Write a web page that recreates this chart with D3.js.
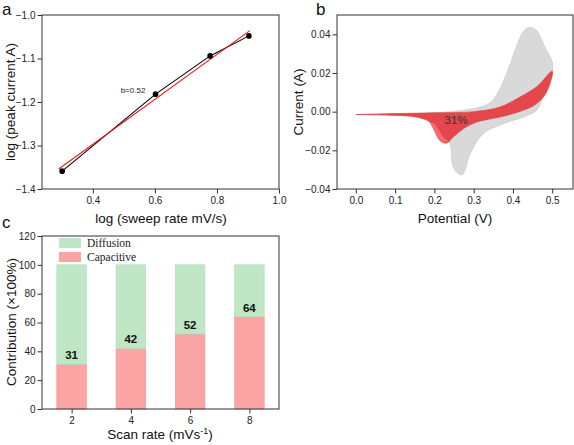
<!DOCTYPE html>
<html><head><meta charset="utf-8">
<script src="https://cdn.jsdelivr.net/npm/d3@7"></script>
<style>body{margin:0;background:#fff}svg{display:block;font-family:Arial,"Liberation Sans",sans-serif}</style>
</head><body><svg id="c" width="574" height="445"></svg>
<script>
// ---- Panel a data ----
const logRate = [0.301, 0.602, 0.778, 0.903];
const logPeak = [-1.359, -1.182, -1.094, -1.048];
const fitX = [0.29, 0.906];
const fitY = [-1.354, -1.036];
const aXTicks = [0.4, 0.6, 0.8, 1.0];
const aYTicks = [-1.4, -1.3, -1.2, -1.1, -1.0];
// ---- Panel b data (CV loops) ----
const totalV = [0, 0.1, 0.2, 0.274, 0.32, 0.341, 0.358, 0.384, 0.409, 0.426, 0.441, 0.46, 0.481, 0.5,
  0.5, 0.477, 0.46, 0.426, 0.375, 0.324, 0.291, 0.27, 0.248, 0.242, 0.232, 0.2, 0.185, 0.155, 0.087, 0];
const totalI = [-0.0015, -0.0012, -0.0006, 0.0007, 0.0025, 0.0045, 0.0085, 0.0197, 0.0335, 0.0412, 0.0435, 0.042, 0.0335, 0.0257,
  0.02, 0.0076, 0.0007, -0.0028, -0.0062, -0.0114, -0.0218, -0.0327, -0.0287, -0.0183, -0.014, -0.009, -0.005, -0.0028, -0.0018, -0.0015];
const capV = [0, 0.1, 0.2, 0.3, 0.367, 0.418, 0.46, 0.5,
  0.486, 0.46, 0.426, 0.375, 0.308, 0.274, 0.248, 0.231, 0.214, 0.2, 0.189, 0.155, 0.087, 0];
const capI = [-0.0015, -0.001, -0.0006, 0.0, 0.0024, 0.0076, 0.0128, 0.0209,
  0.0102, 0.0041, 0.0007, -0.0024, -0.0054, -0.0088, -0.0131, -0.0163, -0.0149, -0.0097, -0.0054, -0.0028, -0.0018, -0.0015];
const capLightV = [0.19, 0.2, 0.214, 0.229, 0.235, 0.224, 0.212, 0.2];
const capLightI = [-0.0056, -0.0097, -0.0147, -0.0161, -0.0152, -0.0135, -0.0098, -0.0062];
const bXTicks = [0.0, 0.1, 0.2, 0.3, 0.4, 0.5];
const bYTicks = [-0.04, -0.02, 0.00, 0.02, 0.04];
// ---- Panel c data ----
const scanRates = [2, 4, 6, 8];
const capacitive = [31, 42, 52, 64];
const diffusion = [69, 58, 48, 36];
const cYTicks = [0, 20, 40, 60, 80, 100, 120];

const svg = d3.select("#c");
const frameCol = "#333";

function frame(g, x0, x1, y0, y1) {
  g.append("rect").attr("x", x0).attr("y", y0).attr("width", x1 - x0).attr("height", y1 - y0)
    .attr("fill", "none").attr("stroke", frameCol).attr("stroke-width", 1);
}
function axes(g, x, y, xTicks, xMinor, yTicks, yMinor, xFmt, yFmt) {
  const [x0, x1] = x.range(), [y1, y0] = y.range();
  const gx = g.append("g").attr("transform", `translate(0,${y1})`);
  gx.call(d3.axisBottom(x).tickValues(xMinor).tickSize(2.5).tickFormat(""));
  gx.call(d3.axisBottom(x).tickValues(xTicks).tickSize(4.5).tickPadding(3).tickFormat(xFmt));
  const gy = g.append("g").attr("transform", `translate(${x0},0)`);
  gy.call(d3.axisLeft(y).tickValues(yMinor).tickSize(2.5).tickFormat(""));
  gy.call(d3.axisLeft(y).tickValues(yTicks).tickSize(4.5).tickPadding(2).tickFormat(yFmt));
  g.selectAll(".domain").remove();
  g.selectAll(".tick line").attr("stroke", frameCol);
  g.selectAll(".tick text").attr("font-size", 10).attr("fill", "#222").attr("font-family", "Arial, 'Liberation Sans', sans-serif");
  frame(g, x0, x1, y0, y1);
}
function label(txt, x, y, size, opts = {}) {
  const t = svg.append("text").attr("x", x).attr("y", y).attr("font-size", size)
    .attr("text-anchor", opts.anchor || "middle").attr("fill", opts.fill || "#111");
  if (opts.rotate) t.attr("transform", `rotate(-90,${x},${y})`);
  if (opts.weight) t.attr("font-weight", opts.weight);
  if (opts.family) t.attr("font-family", opts.family);
  t.text(txt);
  return t;
}

// ================= Panel a =================
{
  const x = d3.scaleLinear().domain([0.236, 1.0]).range([42, 279]);
  const y = d3.scaleLinear().domain([-1.4, -1.0]).range([189, 15]);
  const g = svg.append("g");
  const pts = logRate.map((d, i) => [d, logPeak[i]]);
  g.append("path").attr("d", d3.line().x(d => x(d[0])).y(d => y(d[1]))(pts))
    .attr("fill", "none").attr("stroke", "#000").attr("stroke-width", 1.1);
  g.append("path").attr("d", d3.line().x(d => x(d[0])).y(d => y(d[1]))(fitX.map((d, i) => [d, fitY[i]])))
    .attr("fill", "none").attr("stroke", "#e8191c").attr("stroke-width", 1.1);
  g.selectAll("circle").data(pts).join("circle").attr("cx", d => x(d[0])).attr("cy", d => y(d[1])).attr("r", 2.8).attr("fill", "#000");
  axes(g, x, y, aXTicks, [0.3, 0.5, 0.7, 0.9], aYTicks, [-1.35, -1.25, -1.15, -1.05], d3.format(".1f"), d3.format(".1f"));
  label("b=0.52", 133, 93, 8, {fill: "#222"});
  label("log (sweep rate mV/s)", 161, 223, 13.5);
  label("log (peak current A)", 15, 102, 13.5, {rotate: true});
  label("a", 2, 15, 17, {anchor: "start"});
}

// ================= Panel b =================
{
  const x = d3.scaleLinear().domain([-0.048, 0.553]).range([337, 573]);
  const y = d3.scaleLinear().domain([-0.04, 0.05]).range([189, 15]);
  const g = svg.append("g");
  const line = d3.line().x(d => x(d[0])).y(d => y(d[1])).curve(d3.curveCatmullRomClosed.alpha(0.5));
  g.append("path").attr("d", line(totalV.map((v, i) => [v, totalI[i]])))
    .attr("fill", "#d9d9d9").attr("stroke", "#c9c9c9").attr("stroke-width", 0.8);
  g.append("path").attr("d", line(capV.map((v, i) => [v, capI[i]])))
    .attr("fill", "#e4474b").attr("stroke", "#d93a3e").attr("stroke-width", 0.6);
  g.append("path").attr("d", line(capLightV.map((v, i) => [v, capLightI[i]])))
    .attr("fill", "#f56b6e").attr("stroke", "none");
  axes(g, x, y, bXTicks, [0.05, 0.15, 0.25, 0.35, 0.45, 0.55].filter(v => v <= 0.553), bYTicks,
       [-0.03, -0.01, 0.01, 0.03, 0.05], d3.format(".1f"), d3.format(".2f"));
  label("31%", 456, 124, 11.5, {fill: "#333"});
  label("Potential (V)", 455, 223, 13.5);
  label("Current (A)", 303, 102, 13.5, {rotate: true});
  label("b", 316, 15, 17, {anchor: "start"});
}

// ================= Panel c =================
{
  const x = d3.scaleLinear().domain([1, 9]).range([42, 279]);
  const y = d3.scaleLinear().domain([0, 120]).range([409, 236]);
  const g = svg.append("g");
  const w = x(2.5) - x(1.5);
  const green = "#bfe6c5", greenS = "#b0dcb6", pink = "#fba4a4", pinkS = "#f29595";
  g.selectAll(".cap").data(scanRates).join("rect").attr("class", "cap")
    .attr("x", d => x(d - 0.5)).attr("width", w)
    .attr("y", (d, i) => y(capacitive[i])).attr("height", (d, i) => y(0) - y(capacitive[i]))
    .attr("fill", pink).attr("stroke", pinkS).attr("stroke-width", 0.6);
  g.selectAll(".dif").data(scanRates).join("rect").attr("class", "dif")
    .attr("x", d => x(d - 0.5)).attr("width", w)
    .attr("y", (d, i) => y(capacitive[i] + diffusion[i])).attr("height", (d, i) => y(capacitive[i]) - y(capacitive[i] + diffusion[i]))
    .attr("fill", green).attr("stroke", greenS).attr("stroke-width", 0.6);
  g.selectAll(".vl").data(scanRates).join("text").attr("class", "vl")
    .attr("x", d => x(d)).attr("y", (d, i) => y(capacitive[i]) - 5)
    .attr("text-anchor", "middle").attr("font-size", 11.5).attr("font-weight", "bold").attr("fill", "#111")
    .text((d, i) => capacitive[i]);
  axes(g, x, y, scanRates, [3, 5, 7], cYTicks, [10, 30, 50, 70, 90, 110], d3.format("d"), d3.format("d"));
  // legend
  const lg = [["Diffusion", green], ["Capacitive", pink]];
  lg.forEach((d, i) => {
    svg.append("rect").attr("x", 59).attr("y", 238 + i * 14).attr("width", 22).attr("height", 10).attr("fill", d[1]);
    label(d[0], 87, 247 + i * 14, 11.5, {anchor: "start", family: "'Liberation Serif','Times New Roman',serif", fill: "#222"});
  });
  const t = label("", 160, 439, 13.5);
  t.append("tspan").text("Scan rate (mVs");
  t.append("tspan").attr("dy", -5).attr("font-size", 9).text("-1");
  t.append("tspan").attr("dy", 5).text(")");
  label("Contribution (×100%)", 16, 322, 13.5, {rotate: true});
  label("c", 2, 228, 17, {anchor: "start"});
}
</script></body></html>
